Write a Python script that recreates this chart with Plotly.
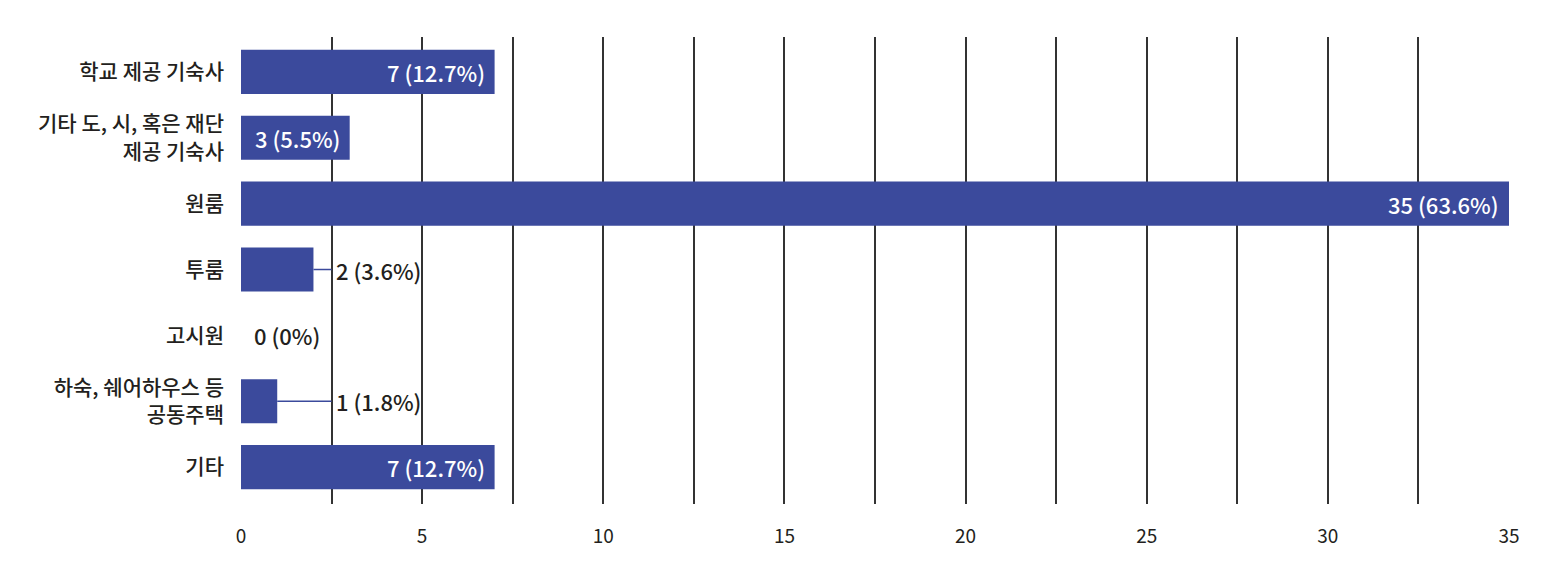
import plotly.graph_objects as go

categories = ["학교 제공 기숙사", "기타 도, 시, 혹은 재단<br>제공 기숙사", "원룸", "투룸",
              "고시원", "하숙, 쉐어하우스 등<br>공동주택", "기타"]
counts = [7, 3, 35, 2, 0, 1, 7]
percents = ["12.7%", "5.5%", "63.6%", "3.6%", "0%", "1.8%", "12.7%"]
x_ticks = [0, 5, 10, 15, 20, 25, 30, 35]

BAR = "#3b4a9c"
TXT = "#231f20"
GRID = "#333333"
FONT = "Noto Sans CJK KR"

labels = [f"{c} ({p})" for c, p in zip(counts, percents)]

fig = go.Figure()
fig.add_trace(go.Bar(
    x=counts, y=categories, orientation="h",
    marker=dict(color=BAR, line=dict(width=0)),
    hoverinfo="skip", cliponaxis=False,
))

LEADER_X = 2.5
annotations = []
shapes = []
lab_font = dict(size=22, family=FONT, weight=500)
for cat, c, lab in zip(categories, counts, labels):
    if c >= 3:
        annotations.append(dict(x=c, y=cat, text=lab, showarrow=False, xanchor="right",
                                xshift=-8, font=dict(color="white", **lab_font)))
    elif c == 0:
        annotations.append(dict(x=0, y=cat, text=lab, showarrow=False, xanchor="left",
                                xshift=11, font=dict(color=TXT, **lab_font)))
    else:
        shapes.append(dict(type="line", x0=c, x1=LEADER_X, y0=cat, y1=cat, xref="x", yref="y",
                           line=dict(color=BAR, width=1.5)))
        annotations.append(dict(x=LEADER_X, y=cat, text=lab, showarrow=False, xanchor="left",
                                xshift=2, font=dict(color=TXT, **lab_font)))

fig.update_layout(
    width=1541, height=562,
    margin=dict(l=233, r=40, t=29, b=66),
    paper_bgcolor="white", plot_bgcolor="white",
    showlegend=False,
    bargap=0.33,
    font=dict(family=FONT, color=TXT, size=21),
    annotations=annotations, shapes=shapes,
    xaxis=dict(range=[0, 35], tickvals=x_ticks, showgrid=True, gridcolor=GRID, gridwidth=1.5,
               minor=dict(dtick=2.5, tick0=0, showgrid=True, gridcolor=GRID, gridwidth=1.5),
               zeroline=False, showline=False, ticks="", ticklabelstandoff=19,
               tickfont=dict(size=19, family=FONT, color=TXT)),
    yaxis=dict(categoryorder="array", categoryarray=categories, range=[6.56, -0.53],
               showgrid=False, zeroline=False, showline=False, ticks="", ticklabelstandoff=16,
               tickfont=dict(size=21, family=FONT, color=TXT, weight=500)),
)

fig.write_html("out.html")
